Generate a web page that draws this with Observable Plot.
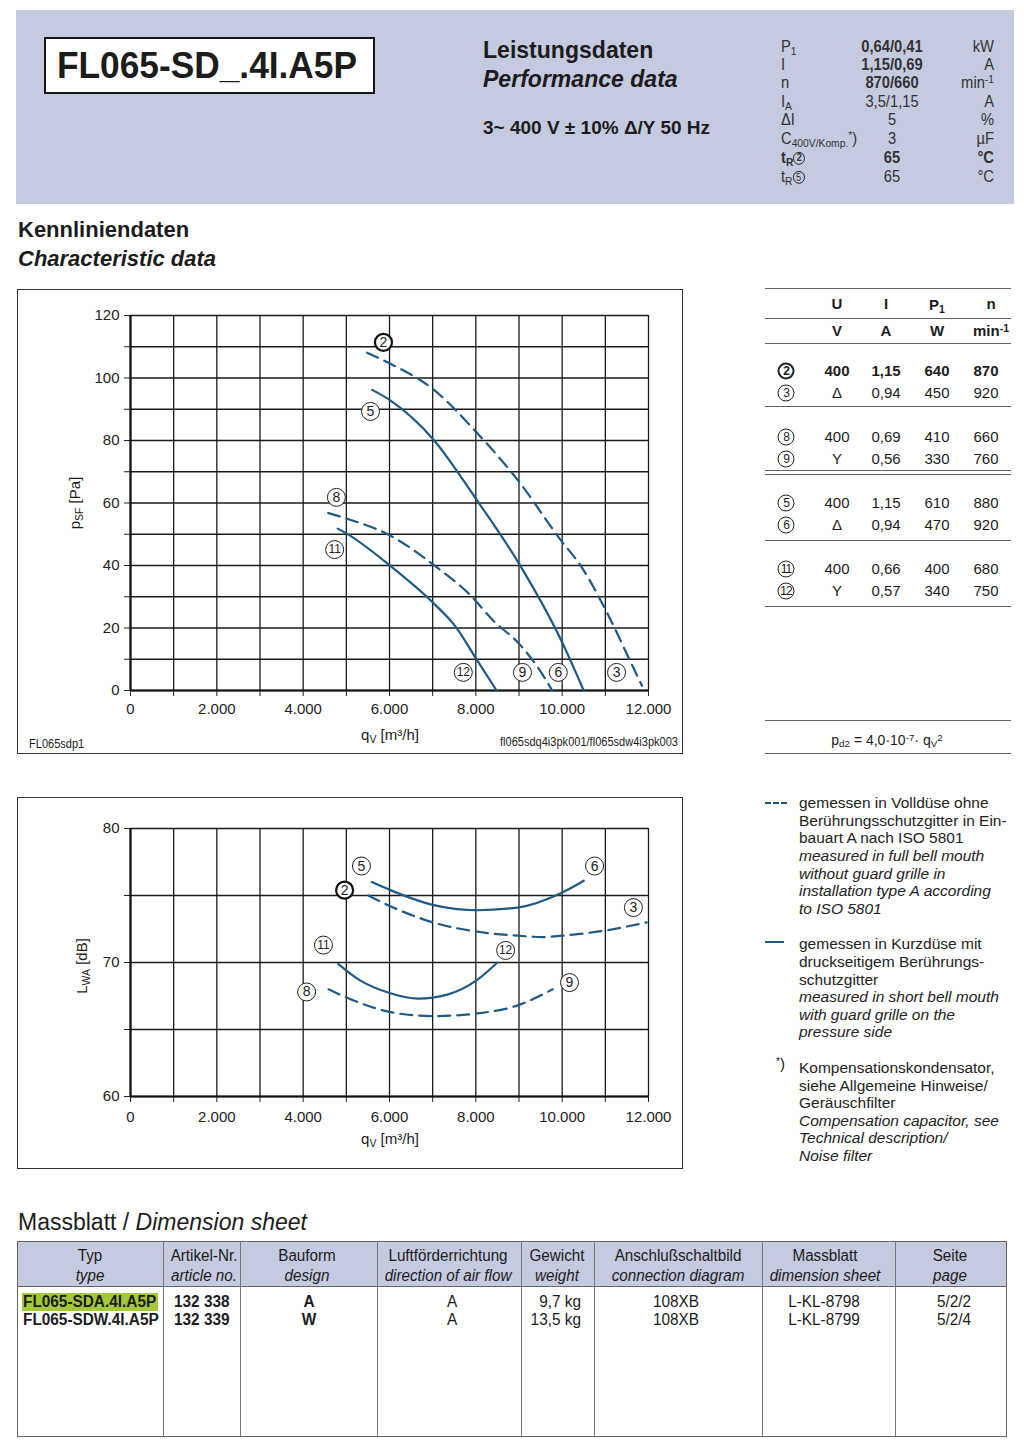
<!DOCTYPE html>
<html><head><meta charset="utf-8">
<script src="https://cdn.jsdelivr.net/npm/d3@7"></script>
<script src="https://cdn.jsdelivr.net/npm/@observablehq/plot@0.6"></script>
<style>
body{margin:0;background:#fff;font-family:"Liberation Sans",Arial,sans-serif;color:#1c1c1c;}
#page{position:relative;width:1024px;height:1442px;overflow:hidden;}
.abs{position:absolute;white-space:nowrap;line-height:1.15;}
.circ{display:inline-block;box-sizing:border-box;width:17px;height:17px;border:1px solid #222;border-radius:50%;font-size:12px;line-height:15px;text-align:center;letter-spacing:-1px;vertical-align:middle;}
.circ.b{border-width:2px;font-weight:bold;line-height:13px;}
.circ.s{width:13px;height:13px;font-size:10px;line-height:11px;letter-spacing:0;}
.circ.s.b{border-width:1.5px;line-height:10px;}
sub{font-size:0.7em;vertical-align:-0.25em;line-height:0;}
sup{font-size:0.7em;vertical-align:0.45em;line-height:0;}
</style></head>
<body><div id="page"></div>
<script>
// ---------- data ----------
// Characteristic curves p_sF [Pa] vs q_V [m3/h]
const psf2_q = [5480, 6000, 7030, 7970, 9000, 9940, 10450, 11050, 11570, 11850];
const psf2_p = [108.1, 104.7, 96.2, 83.3, 66.8, 48.6, 39.5, 24.6, 9.6, 1.5];
const psf5_q = [5600, 6000, 7030, 7970, 9000, 9940, 10500];
const psf5_p = [96.2, 93.0, 80.1, 62.0, 40.6, 17.1, 0];
const psf8_q = [4580, 5010, 6000, 7030, 7880, 8400, 9000, 9430, 9770];
const psf8_p = [56.8, 55.0, 49.7, 40.1, 30.4, 22.4, 15.0, 7.5, 0];
const psf11_q = [4800, 5010, 6000, 7030, 7540, 8010, 8480];
const psf11_p = [51.8, 50.2, 40.1, 27.8, 20.3, 10.1, 0];
const psfLabelIds = ["2", "5", "8", "11", "12", "9", "6", "3"];
const psfLabelQ = [5860, 5560, 4770, 4730, 7710, 9080, 9910, 11260];
const psfLabelP = [111.4, 89.3, 61.8, 45.1, 5.8, 5.8, 5.8, 5.8];

// Sound power L_WA [dB] vs q_V [m3/h]
const lwa2_q = [5510, 6020, 7000, 8030, 8970, 9560, 9990, 11020, 11960];
const lwa2_l = [75.0, 74.2, 73.0, 72.3, 72.0, 71.9, 72.0, 72.4, 73.0];
const lwa5_q = [5590, 6020, 7000, 8030, 8970, 9990, 10500];
const lwa5_l = [76.0, 75.4, 74.3, 73.9, 74.1, 75.2, 76.1];
const lwa8_q = [4590, 5300, 6020, 7000, 8030, 8970, 9780];
const lwa8_l = [68.0, 67.0, 66.3, 66.0, 66.2, 66.8, 68.0];
const lwa11_q = [4810, 5300, 6020, 6660, 7340, 8030, 8500];
const lwa11_l = [69.9, 68.7, 67.7, 67.3, 67.6, 68.7, 70.0];
const lwaLabelIds = ["5", "2", "6", "3", "11", "12", "8", "9"];
const lwaLabelQ = [5350, 4960, 10750, 11650, 4470, 8690, 4080, 10170];
const lwaLabelL = [77.2, 75.4, 77.2, 74.1, 71.3, 70.9, 67.8, 68.5];

const qTicks = [0, 1000, 2000, 3000, 4000, 5000, 6000, 7000, 8000, 9000, 10000, 11000, 12000];
const psfTicks = [0, 10, 20, 30, 40, 50, 60, 70, 80, 90, 100, 110, 120];
const lwaTicks = [60, 65, 70, 75, 80];

// Operating points table
const opIds = ["2", "3", "8", "9", "5", "6", "11", "12"];
const opU = ["400", "Δ", "400", "Y", "400", "Δ", "400", "Y"];
const opI = ["1,15", "0,94", "0,69", "0,56", "1,15", "0,94", "0,66", "0,57"];
const opP = ["640", "450", "410", "330", "610", "470", "400", "340"];
const opN = ["870", "920", "660", "760", "880", "920", "680", "750"];

// Performance data
const perfLabels = ["P<sub>1</sub>", "I", "n", "I<sub>A</sub>", "ΔI", "C<sub>400V/Komp.</sub><sup>*</sup>)", "<b>t<sub>R</sub></b><span class='circ s b'>2</span>", "t<sub>R</sub><span class='circ s'>5</span>"];
const perfValues = ["0,64/0,41", "1,15/0,69", "870/660", "3,5/1,15", "5", "3", "65", "65"];
const perfUnits = ["kW", "A", "min<sup>-1</sup>", "A", "%", "µF", "°C", "°C"];
const perfBold = [true, true, true, false, false, false, true, false];

// Dimension sheet table
const dimHead1 = ["Typ", "Artikel-Nr.", "Bauform", "Luftförderrichtung", "Gewicht", "Anschlußschaltbild", "Massblatt", "Seite"];
const dimHead2 = ["type", "article no.", "design", "direction of air flow", "weight", "connection diagram", "dimension sheet", "page"];
const dimType = ["FL065-SDA.4I.A5P", "FL065-SDW.4I.A5P"];
const dimArticle = ["132 338", "132 339"];
const dimDesign = ["A", "W"];
const dimAir = ["A", "A"];
const dimWeight = ["9,7 kg", "13,5 kg"];
const dimConn = ["108XB", "108XB"];
const dimSheet = ["L-KL-8798", "L-KL-8799"];
const dimPage = ["5/2/2", "5/2/4"];

// ---------- helpers ----------
const page = document.getElementById("page");
function put(html, x, y, o = {}) {
  const d = document.createElement("div");
  d.className = "abs";
  const tx = o.align === "center" ? "-50%" : o.align === "right" ? "-100%" : "0";
  const ox = o.align === "center" ? "50%" : o.align === "right" ? "100%" : "0";
  d.style.left = x + "px"; d.style.top = y + "px";
  d.style.transformOrigin = `${ox} 50%`;
  d.style.transform = `translate(${tx},-50%)` + (o.rot ? ` rotate(${o.rot}deg)` : "") + (o.sx ? ` scaleX(${o.sx})` : "");
  d.style.fontSize = (o.size || 15) + "px";
  if (o.bold) d.style.fontWeight = "bold";
  if (o.italic) d.style.fontStyle = "italic";
  if (o.color) d.style.color = o.color;
  d.innerHTML = html;
  page.appendChild(d);
  return d;
}
function box(x, y, w, h, css) {
  const d = document.createElement("div");
  d.style.cssText = `position:absolute;left:${x}px;top:${y}px;width:${w}px;height:${h}px;box-sizing:border-box;` + (css || "");
  page.appendChild(d); return d;
}
function hline(x, y, w, c) { box(x, y, w, 0, `border-top:1px solid ${c || "#555"};`); }
function vline(x, y, h, c) { box(x, y, 0, h, `border-left:1px solid ${c || "#555"};`); }

const BLUE = "#1f5a86";
const fmtQ = d => d === 0 ? "0" : d3.format(",")(d).replace(/,/g, ".");
const mk = (qs, vs, id) => qs.map((q, i) => ({q, v: vs[i], id}));

// ---------- header ----------
box(16, 10, 998, 194, "background:#c4cadf;");
box(44, 37, 331, 57, "background:#fff;border:2px solid #151515;");
put("FL065-SD_.4I.A5P", 207, 66, {size: 36, bold: true, align: "center", sx: 0.98});
put("Leistungsdaten", 483, 50, {size: 24, bold: true, sx: 0.96});
put("Performance data", 483, 79, {size: 24, bold: true, italic: true, sx: 0.96});
put("3~ 400 V ± 10% Δ/Y 50 Hz", 483, 128, {size: 19, bold: true});
const perfY = [47, 65, 83, 102, 120, 139, 158, 177];
perfLabels.forEach((l, i) => {
  put(l, 781, perfY[i], {size: 16, color: "#333", sx: 0.92});
  put(perfValues[i], 892, perfY[i], {size: 16, bold: perfBold[i], align: "center", color: "#333", sx: 0.92});
  put(perfUnits[i], 994, perfY[i], {size: 16, bold: i === 6, align: "right", color: "#333", sx: 0.92});
});

put("Kennliniendaten", 18, 230, {size: 22, bold: true});
put("Characteristic data", 18, 259, {size: 22, bold: true, italic: true});

// ---------- charts ----------
const psfDashed = [...mk(psf2_q, psf2_p, "2"), ...mk(psf8_q, psf8_p, "8")];
const psfSolid = [...mk(psf5_q, psf5_p, "5"), ...mk(psf11_q, psf11_p, "11")];
const psfLabels = psfLabelIds.map((id, i) => ({id, q: psfLabelQ[i], v: psfLabelP[i]}));
const lwaDashed = [...mk(lwa2_q, lwa2_l, "2"), ...mk(lwa8_q, lwa8_l, "8")];
const lwaSolid = [...mk(lwa5_q, lwa5_l, "5"), ...mk(lwa11_q, lwa11_l, "11")];
const lwaLabels = lwaLabelIds.map((id, i) => ({id, q: lwaLabelQ[i], v: lwaLabelL[i]}));

function chart(opts) {
  const {height, marginTop, marginBottom, yDomain, yTicks, yLabelEvery, dashed, solid, labels, xPad} = opts;
  return Plot.plot({
    width: 663, height, marginLeft: 112, marginRight: 33, marginTop, marginBottom,
    style: {fontFamily: "'Liberation Sans', Arial, sans-serif", fontSize: "15px", color: "#222", background: "transparent", overflow: "visible"},
    x: {domain: [0, 12000], label: null},
    y: {domain: yDomain, label: null},
    marks: [
      Plot.gridX(qTicks, {stroke: "#1a1a1a", strokeOpacity: 1, strokeWidth: 1.3}),
      Plot.gridY(yTicks, {stroke: "#1a1a1a", strokeOpacity: 1, strokeWidth: 1.3}),
      Plot.axisX(qTicks, {tickSize: 6, tickPadding: xPad, fontSize: 15, tickFormat: d => d % 2000 ? "" : fmtQ(d), label: null}),
      Plot.axisY(yTicks, {tickSize: 6, tickPadding: 5, fontSize: 15, tickFormat: d => (d - yDomain[0]) % yLabelEvery ? "" : String(d), label: null}),
      Plot.ruleY([yDomain[0]], {stroke: "#111", strokeWidth: 2.2}),
      Plot.ruleX([0], {stroke: "#111", strokeWidth: 2.2}),
      Plot.line(dashed, {x: "q", y: "v", z: "id", stroke: BLUE, strokeWidth: 2.2, strokeDasharray: "12,7", curve: "monotone-x"}),
      Plot.line(solid, {x: "q", y: "v", z: "id", stroke: BLUE, strokeWidth: 2.2, curve: "monotone-x"}),
      Plot.dot(labels.filter(d => d.id !== "2"), {x: "q", y: "v", r: 9, fill: "white", stroke: "#222", strokeWidth: 1}),
      Plot.dot(labels.filter(d => d.id === "2"), {x: "q", y: "v", r: 8.5, fill: "white", stroke: "#111", strokeWidth: 2.2}),
      Plot.text(labels, {x: "q", y: "v", text: "id", fontSize: d => d.id.length > 1 ? 12 : 14, fontWeight: d => d.id === "2" ? "bold" : "normal", fill: "#222", letterSpacing: d => d.id.length > 1 ? -1 : 0})
    ]
  });
}

box(17, 289, 666, 465, "border:1.5px solid #333;");
const c1 = chart({height: 462, marginTop: 25, marginBottom: 62, yDomain: [0, 120], yTicks: psfTicks, yLabelEvery: 20, dashed: psfDashed, solid: psfSolid, labels: psfLabels, xPad: 7});
c1.style.position = "absolute"; c1.style.left = "18px"; c1.style.top = "290px";
page.appendChild(c1);
put("p<sub>SF</sub> [Pa]", 75, 503, {size: 15, align: "center", rot: -90});
put("q<sub>V</sub> [m³/h]", 390, 735, {size: 15, align: "center"});
put("FL065sdp1", 29, 745, {size: 12, sx: 0.92});
put("fl065sdq4i3pk001/fl065sdw4i3pk003", 678, 743, {size: 12, align: "right", sx: 0.92});

box(17, 797, 666, 372, "border:1.5px solid #333;");
const c2 = chart({height: 369, marginTop: 30, marginBottom: 71, yDomain: [60, 80], yTicks: lwaTicks, yLabelEvery: 10, dashed: lwaDashed, solid: lwaSolid, labels: lwaLabels, xPad: 9});
c2.style.position = "absolute"; c2.style.left = "18px"; c2.style.top = "798px";
page.appendChild(c2);
put("L<sub>WA</sub> [dB]", 82, 966, {size: 15, align: "center", rot: -90});
put("q<sub>V</sub> [m³/h]", 390, 1139, {size: 15, align: "center"});

// ---------- operating point table ----------
[288, 318, 343, 406, 470, 474, 540, 606, 720, 753].forEach(y => hline(765, y, 246, "#666"));
const colX = [837, 886, 937, 986];
put("U", colX[0], 304, {bold: true, align: "center"});
put("I", colX[1], 304, {bold: true, align: "center"});
put("P<sub>1</sub>", colX[2], 305, {bold: true, align: "center"});
put("n", 991, 304, {bold: true, align: "center"});
put("V", colX[0], 331, {bold: true, align: "center"});
put("A", colX[1], 331, {bold: true, align: "center"});
put("W", colX[2], 331, {bold: true, align: "center"});
put("min<sup>-1</sup>", 991, 331, {bold: true, align: "center"});
const rowY = [371, 393, 437, 459, 503, 525, 569, 591];
opIds.forEach((id, i) => {
  const b = i === 0;
  put(`<span class="circ${b ? " b" : ""}">${id}</span>`, 786, rowY[i], {align: "center", size: 12});
  put(opU[i], colX[0], rowY[i], {bold: b, align: "center", size: 15});
  put(opI[i], colX[1], rowY[i], {bold: b, align: "center", size: 15});
  put(opP[i], colX[2], rowY[i], {bold: b, align: "center", size: 15});
  put(opN[i], colX[3], rowY[i], {bold: b, align: "center", size: 15});
});
put("p<sub>d2</sub> = 4,0·10<sup>-7</sup>· q<sub>V</sub><sup>2</sup>", 887, 740, {size: 14, align: "center"});

// ---------- legend ----------
box(765, 802, 22, 0, `border-top:2px dashed ${BLUE};`);
box(765, 941, 19, 0, `border-top:2.5px solid ${BLUE};`);
put("<sup style='font-size:10px'>*</sup>)", 776, 1064, {size: 15});
const legend = [
  [803, "gemessen in Volldüse ohne", 0], [821, "Berührungsschutzgitter in Ein-", 0], [838, "bauart A nach ISO 5801", 0],
  [856, "measured in full bell mouth", 1], [874, "without guard grille in", 1], [891, "installation type A according", 1], [909, "to ISO 5801", 1],
  [944, "gemessen in Kurzdüse mit", 0], [962, "druckseitigem Berührungs-", 0], [980, "schutzgitter", 0],
  [997, "measured in short bell mouth", 1], [1015, "with guard grille on the", 1], [1032, "pressure side", 1],
  [1068, "Kompensationskondensator,", 0], [1086, "siehe Allgemeine Hinweise/", 0], [1103, "Geräuschfilter", 0],
  [1121, "Compensation capacitor, see", 1], [1138, "Technical description/", 1], [1156, "Noise filter", 1]
];
legend.forEach(([y, t, it]) => put(t, 799, y, {size: 15.5, italic: !!it, color: "#222"}));

// ---------- dimension sheet ----------
put("Massblatt / <i>Dimension sheet</i>", 18, 1222, {size: 23});
box(17, 1241, 990, 45, "background:#c4cadf;");
box(17, 1241, 990, 196, "border:1px solid #666;");
hline(17, 1286, 990, "#666");
const colEdges = [17, 163, 240, 377, 521, 594, 762, 895, 1006];
colEdges.slice(1, -1).forEach(x => vline(x, 1241, 196, "#777"));
const headX = [90, 204, 307, 448, 557, 678, 825, 950];
dimHead1.forEach((t, i) => {
  put(t, headX[i], 1256, {size: 16, align: "center", sx: 0.95});
  put(dimHead2[i], headX[i], 1276, {size: 16, italic: true, align: "center", sx: 0.95});
});
box(22, 1293, 136, 18, "background:#a3c93a;");
const dimY = [1302, 1320];
dimType.forEach((t, i) => {
  put(t, 23, dimY[i], {size: 16, bold: true, sx: 0.96});
  put(dimArticle[i], 174, dimY[i], {size: 16, bold: true, sx: 0.96});
  put(dimDesign[i], 309, dimY[i], {size: 16, bold: true, align: "center", sx: 0.96});
  put(dimAir[i], 452, dimY[i], {size: 16, align: "center", sx: 0.96});
  put(dimWeight[i], 581, dimY[i], {size: 16, align: "right", sx: 0.96});
  put(dimConn[i], 676, dimY[i], {size: 16, align: "center", sx: 0.96});
  put(dimSheet[i], 824, dimY[i], {size: 16, align: "center", sx: 0.96});
  put(dimPage[i], 954, dimY[i], {size: 16, align: "center", sx: 0.96});
});
</script></body></html>
